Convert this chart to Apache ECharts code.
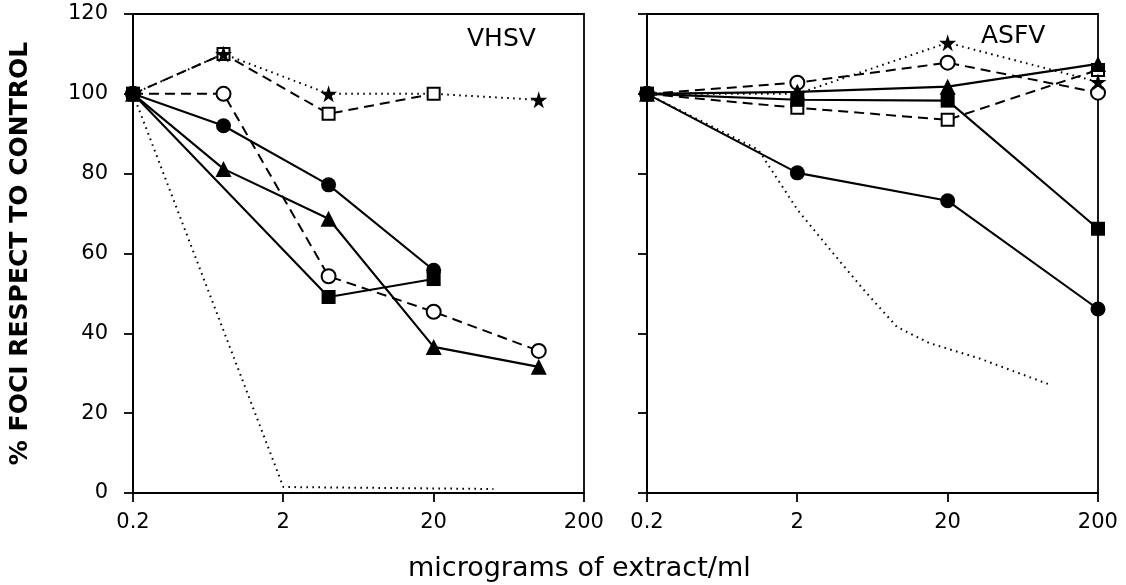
<!DOCTYPE html>
<html>
<head>
<meta charset="utf-8">
<script src="https://cdn.jsdelivr.net/npm/echarts@6/dist/echarts.min.js"></script>
<style>html,body{margin:0;padding:0;background:#fff}#c{width:1126px;height:585px}</style>
</head>
<body>
<div id="c"></div>
<script>
// ---- data ----
const xTickLabels = ['0.2', '2', '20', '200'];
const yTickLabels = ['0', '20', '40', '60', '80', '100', '120'];

// VHSV panel
const dosesVHSV = [0.2, 0.8, 4, 20, 100];
const vhsvStar = [100, 110, 100, 100, 98.5];
const vhsvOpenSquare = [100, 110, 95, 100, null];
const vhsvOpenCircle = [100, 100, 54.3, 45.4, 35.6];
const vhsvFilledCircle = [100, 92, 77.2, 55.8, null];
const vhsvTriangle = [100, 81.2, 68.7, 36.6, 31.6];
const vhsvFilledSquare = [100, null, 49.1, 53.6, null];
const vhsvDottedX = [0.2, 2, 50];
const vhsvDottedY = [100, 1.5, 1];

// ASFV panel
const dosesASFV = [0.2, 2, 20, 200];
const asfvStar = [100, 100, 112.8, 103];
const asfvOpenCircle = [100, 102.8, 107.8, 100.3];
const asfvTriangle = [100, 100.5, 101.8, 107.5];
const asfvOpenSquare = [100, 96.5, 93.5, 106];
const asfvFilledSquare = [100, 98.5, 98.3, 66.2];
const asfvFilledCircle = [100, 80.2, 73.2, 46.1];
const asfvDottedX = [0.2, 1.1, 2, 3.3, 5.5, 9.2, 15, 32, 98];
const asfvDottedY = [100, 86, 71, 61, 51, 41.6, 37.6, 33.8, 27];

// ---- styles ----
const STAR = 'path://M50,0 L61,35 L98,35 L68,57 L79,91 L50,70 L21,91 L32,57 L2,35 L39,35 Z';
const SOLID = {color:'#000', width:2.1, type:'solid'};
const DASHED = {color:'#000', width:2, type:[10,6]};
const DOTTED = {color:'#000', width:2, type:[1.6,4.4]};
const FONT = "'DejaVu Sans', sans-serif";

function pairs(xs, ys, hideAt) {
  const out = [];
  xs.forEach((x, i) => {
    if (ys[i] == null) return;
    const item = {value: [x, ys[i]]};
    if (hideAt && hideAt.indexOf(x) >= 0) item.symbol = 'none';
    out.push(item);
  });
  return out;
}
function mk(panel, xs, ys, symbol, size, line, empty, hideAt) {
  return {
    type: 'line', xAxisIndex: panel, yAxisIndex: panel,
    data: pairs(xs, ys, hideAt), symbol: symbol, symbolSize: size,
    showSymbol: symbol !== 'none', connectNulls: true, clip: false,
    lineStyle: line, animation: false,
    itemStyle: empty ? {color:'#000', borderColor:'#000', borderWidth:1.9} : {color:'#000', borderColor:'#000', borderWidth:0},
    emphasis: {disabled: true}
  };
}

const xAxisBase = (idx) => ({
  type: 'log', logBase: 10, gridIndex: idx, min: 0.2, max: 200, interval: 1,
  axisLine: {show: true, lineStyle: {color:'#000', width: 2}},
  axisTick: {show: true, inside: false, length: 9, lineStyle: {color:'#000', width: 1.8}},
  minorTick: {show: false},
  splitLine: {show: false},
  axisLabel: {show: true, color:'#000', fontFamily: FONT, fontSize: 21, margin: 19,
    formatter: function (v) { return String(+Number(v).toPrecision(3)); }}
});
const yAxisBase = (idx) => ({
  type: 'value', gridIndex: idx, min: 0, max: 120, interval: 20,
  axisLine: {show: true, lineStyle: {color:'#000', width: 2}},
  axisTick: {show: true, inside: false, length: 9, lineStyle: {color:'#000', width: 1.8}},
  splitLine: {show: false},
  axisLabel: {show: idx === 0, color:'#000', fontFamily: FONT, fontSize: 21, margin: 25}
});

const option = {
  backgroundColor: '#fff',
  animation: false,
  grid: [
    {left: 133, top: 14, width: 451, height: 479, show: true, borderColor:'#000', borderWidth: 1.8, backgroundColor:'transparent'},
    {left: 647, top: 14, width: 451, height: 479, show: true, borderColor:'#000', borderWidth: 1.8, backgroundColor:'transparent'}
  ],
  xAxis: [xAxisBase(0), xAxisBase(1)],
  yAxis: [
    Object.assign(yAxisBase(0), {name: '% FOCI RESPECT TO CONTROL', nameLocation: 'middle', nameGap: 100, nameRotate: 90,
      nameTextStyle: {color:'#000', fontFamily: FONT, fontSize: 25, fontWeight: 'bold'}}),
    yAxisBase(1)
  ],
  graphic: [
    {type:'text', left: 467, top: 27, style: {text: 'VHSV', fill:'#000', font: "25px 'DejaVu Sans'"}},
    {type:'text', left: 981, top: 24, style: {text: 'ASFV', fill:'#000', font: "25px 'DejaVu Sans'"}},
    {type:'text', left: 408, top: 555, style: {text: 'micrograms of extract/ml', fill:'#000', font: "27px 'DejaVu Sans'"}}
  ],
  series: [
    mk(0, vhsvDottedX, vhsvDottedY, 'none', 0, DOTTED, false),
    mk(0, dosesVHSV, vhsvOpenSquare, 'emptyRect', 12, DASHED, true),
    mk(0, dosesVHSV, vhsvStar, STAR, 17, DOTTED, false, [20]),
    mk(0, dosesVHSV, vhsvOpenCircle, 'emptyCircle', 14, DASHED, true),
    mk(0, dosesVHSV, vhsvFilledSquare, 'rect', 14, SOLID, false),
    mk(0, dosesVHSV, vhsvFilledCircle, 'circle', 15, SOLID, false),
    mk(0, dosesVHSV, vhsvTriangle, 'triangle', 16, SOLID, false),

    mk(1, asfvDottedX, asfvDottedY, 'none', 0, DOTTED, false),
    mk(1, dosesASFV, asfvOpenSquare, 'emptyRect', 12, DASHED, true),
    mk(1, dosesASFV, asfvOpenCircle, 'emptyCircle', 14, DASHED, true),
    mk(1, dosesASFV, asfvFilledSquare, 'rect', 14, SOLID, false),
    mk(1, dosesASFV, asfvTriangle, 'triangle', 16, SOLID, false),
    mk(1, dosesASFV, asfvStar, STAR, 17, DOTTED, false),
    mk(1, dosesASFV, asfvFilledCircle, 'circle', 15, SOLID, false)
  ]
};
const chart = echarts.init(document.getElementById('c'), null, {renderer: 'canvas'});
chart.setOption(option);
</script>
</body>
</html>
